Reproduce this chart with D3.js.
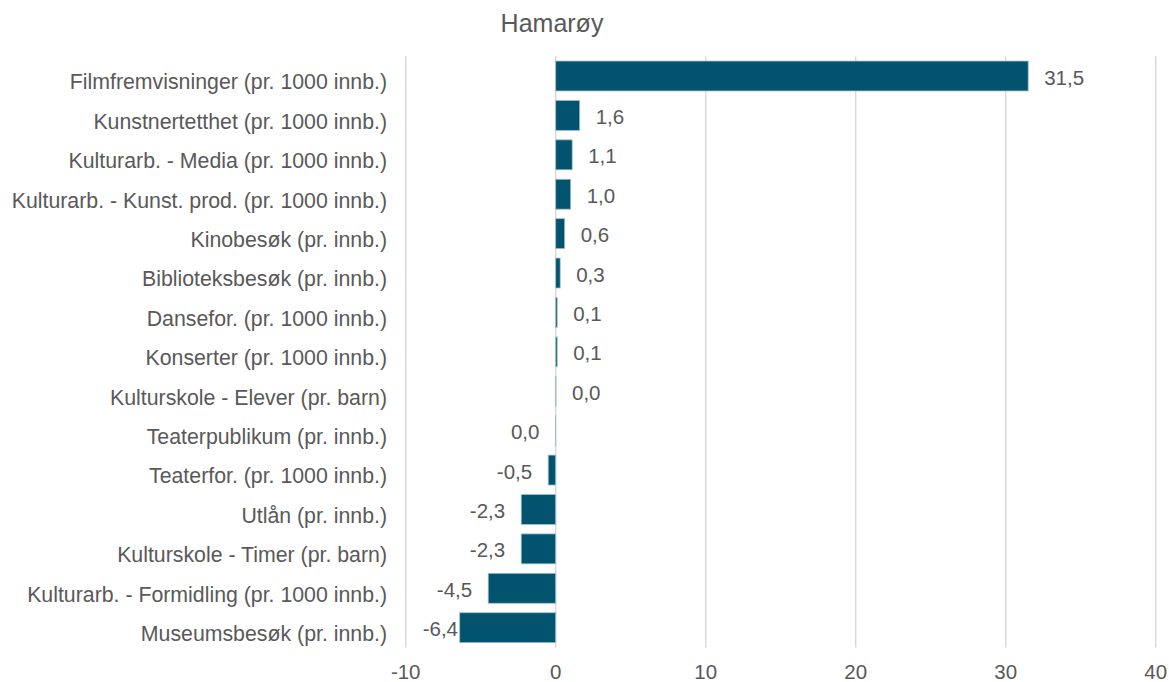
<!DOCTYPE html>
<html>
<head>
<meta charset="utf-8">
<script src="https://cdn.jsdelivr.net/npm/d3@7"></script>
<style>
  body { margin: 0; background: #fff; }
  text { font-family: "Liberation Sans", Arial, sans-serif; fill: #595959; }
</style>
</head>
<body>
<div id="chart"></div>
<script>
// data
const categories = [
  'Filmfremvisninger (pr. 1000 innb.)',
  'Kunstnertetthet (pr. 1000 innb.)',
  'Kulturarb. - Media (pr. 1000 innb.)',
  'Kulturarb. - Kunst. prod. (pr. 1000 innb.)',
  'Kinobesøk (pr. innb.)',
  'Biblioteksbesøk (pr. innb.)',
  'Dansefor. (pr. 1000 innb.)',
  'Konserter (pr. 1000 innb.)',
  'Kulturskole - Elever (pr. barn)',
  'Teaterpublikum (pr. innb.)',
  'Teaterfor. (pr. 1000 innb.)',
  'Utlån (pr. innb.)',
  'Kulturskole - Timer (pr. barn)',
  'Kulturarb. - Formidling (pr. 1000 innb.)',
  'Museumsbesøk (pr. innb.)'
];
const values = [31.5, 1.6, 1.1, 1.0, 0.6, 0.3, 0.1, 0.1, 0.02, -0.02, -0.5, -2.3, -2.3, -4.5, -6.4];
const xTicks = [-10, 0, 10, 20, 30, 40];
const title = 'Hamarøy';

const width = 1169, height = 682;
const margin = {top: 56.3, right: 13.3, bottom: 34.6, left: 405.7};

const svg = d3.select('#chart').append('svg')
  .attr('width', width).attr('height', height);

const x = d3.scaleLinear([-10, 40], [margin.left, width - margin.right]);
const y = d3.scaleBand(categories, [margin.top, height - margin.bottom])
  .paddingInner(0.24).paddingOuter(0.12);

// excel style: comma decimals, plain hyphen, no "-0,0"
const fmt = v => v.toFixed(1).replace('.', ',').replace('-0,0', '0,0');

// title
svg.append('text')
  .attr('x', 552).attr('y', 32)
  .attr('text-anchor', 'middle')
  .style('font-size', '25px')
  .text(title);

// grid
svg.append('g').selectAll('line').data(xTicks).join('line')
  .attr('x1', d => x(d)).attr('x2', d => x(d))
  .attr('y1', margin.top).attr('y2', height - margin.bottom)
  .attr('stroke', '#d9d9d9').attr('stroke-width', 1.5);

// x tick labels
svg.append('g').selectAll('text').data(xTicks).join('text')
  .attr('x', d => x(d)).attr('y', 679)
  .attr('text-anchor', 'middle')
  .style('font-size', '20.5px')
  .text(d => d);

// category labels
svg.append('g').selectAll('text').data(categories).join('text')
  .attr('x', 387).attr('y', d => y(d) + y.bandwidth() / 2 + 13.3)
  .attr('text-anchor', 'end')
  .style('font-size', '21.3px')
  .text(d => d);

// bars
const data = categories.map((c, i) => ({c, v: values[i]}));
svg.append('g').selectAll('rect').data(data).join('rect')
  .attr('x', d => x(Math.min(0, d.v)))
  .attr('width', d => Math.abs(x(d.v) - x(0)))
  .attr('y', d => y(d.c))
  .attr('height', y.bandwidth())
  .attr('fill', '#02546e')
  .attr('stroke', '#a3c1cc').attr('stroke-width', 0.8);

// value labels
const labels = svg.append('g').selectAll('text').data(data).join('text')
  .attr('y', d => y(d.c) + y.bandwidth() / 2 + 8.5)
  .style('font-size', '20.5px')
  .text(d => fmt(d.v));

labels.each(function(d) {
  const t = d3.select(this);
  const w = this.getComputedTextLength();
  if (d.v >= 0) {
    t.attr('x', x(d.v) + 16).attr('text-anchor', 'start');
  } else {
    const end = Math.max(x(d.v) - 16, x(-10) + 17 + w);
    t.attr('x', end).attr('text-anchor', 'end');
  }
});
</script>
</body>
</html>
